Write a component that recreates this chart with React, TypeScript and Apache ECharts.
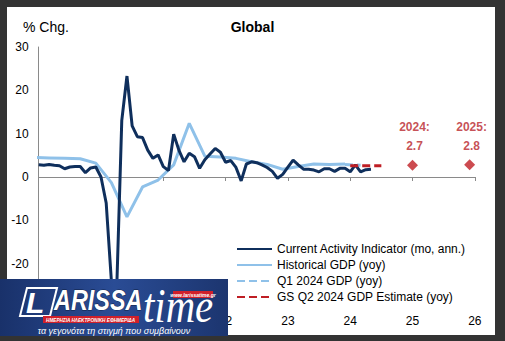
import React, { useEffect, useRef } from "react";
import * as echarts from "echarts";

// ---- Data ----
const caiStart = "2019-01";
// Current Activity Indicator (mo, ann.), monthly Jan 2019 .. May 2024
const caiValues = [
  2.8, 2.7, 2.9, 2.7, 2.6, 1.9, 2.3, 2.4, 2.4, 1.0, 2.1, 2.3,
  0.0, -6.0, -24.0, -27.0, 13.0, 23.3, 11.8, 9.3, 9.1, 6.2, 4.3, 5.1,
  2.4, 1.5, 9.9, 6.2, 3.5, 5.5, 4.7, 2.0, 4.0, 5.3, 6.6, 5.7,
  3.4, 3.8, 2.2, -0.9, 3.0, 3.5, 3.3, 2.8, 2.2, 1.3, -0.3, 0.6,
  2.3, 3.9, 2.8, 1.8, 1.8, 1.6, 1.2, 1.9, 1.9, 1.3, 2.0, 2.0,
  1.2, 2.8, 1.2, 1.7, 1.8,
];
// Historical GDP (yoy), quarterly
const gdpDates = [
  "2018-12", "2019-03", "2019-06", "2019-09", "2019-12", "2020-03", "2020-06",
  "2020-09", "2020-12", "2021-03", "2021-06", "2021-09", "2021-12", "2022-03",
  "2022-06", "2022-09", "2022-12", "2023-03", "2023-06", "2023-09", "2023-12",
];
const gdpValues = [
  4.5, 4.4, 4.3, 4.2, 3.2, -1.3, -9.2, -2.3, -0.7, 2.8, 12.4, 4.8, 4.6, 4.3,
  3.5, 2.9, 1.8, 2.4, 3.0, 2.9, 3.0,
];
const q1Dates = ["2023-12", "2024-03"];
const q1Values = [2.9, 2.7];
const gsDates = ["2024-01", "2024-07"];
const gsValues = [2.6, 2.6];
const forecastDates = ["2025-01", "2025-12"];
const forecastLabels = ["2024:", "2025:"];
const forecastValues = [2.7, 2.8];

const seriesNames = [
  "Current Activity Indicator (mo, ann.)",
  "Historical GDP (yoy)",
  "Q1 2024 GDP (yoy)",
  "GS Q2 2024 GDP Estimate (yoy)",
];
const xMin = 2019;
const xMax = 2026;
const firstVisibleYearLabel = 2022; // earlier labels sit under the logo
const yMin = -30;
const yMax = 30;
const yStep = 10;

const FONT = "'Liberation Sans', Arial, sans-serif";
const NAVY = "#0f2f5c";
const LIGHT = "#8fc1e9";
const RED = "#bf1e24";
const LABEL_RED = "#b8232a";

const toX = (d: string) => {
  const [y, m] = d.split("-").map(Number);
  return y + (m - 1) / 12;
};
const pairs = (dates: string[], vals: number[]) => dates.map((d, i) => [toX(d), vals[i]]);

const LOGO_Z = 100;

export default function App() {
  const ref = useRef<HTMLDivElement>(null);
  useEffect(() => {
    if (!ref.current) return;
    const chart = echarts.init(ref.current, undefined, { renderer: "svg" });
    const caiData = caiValues.map((v, i) => [toX(caiStart) + i / 12, v]);
    const option: any = {
      animation: false,
      backgroundColor: "#333333",
      textStyle: { fontFamily: FONT },
      title: [
        {
          text: "Global",
          left: "center",
          top: 20,
          padding: 0,
          textStyle: { fontSize: 14, fontWeight: "bold", color: "#000", fontFamily: FONT },
        },
        {
          text: "% Chg.",
          left: 23,
          top: 20,
          padding: 0,
          textStyle: { fontSize: 14, fontWeight: "normal", color: "#000", fontFamily: FONT },
        },
      ],
      grid: { left: 38.7, right: 30.2, top: 47, bottom: 34, containLabel: false },
      legend: {
        orient: "vertical",
        left: 236,
        top: 243,
        padding: 0,
        itemWidth: 35,
        itemHeight: 14,
        itemGap: 4,
        data: seriesNames,
        itemStyle: { color: "rgba(0,0,0,0)", borderWidth: 0, opacity: 0 },
        textStyle: { fontSize: 12, color: "#000", fontFamily: FONT },
        selectedMode: false,
      },
      xAxis: [
        {
          type: "value",
          min: xMin,
          max: xMax,
          interval: 1,
          position: "bottom",
          axisLine: { show: false, onZero: false },
          axisTick: { show: false },
          splitLine: { show: false },
          axisLabel: {
            fontSize: 12,
            color: "#000",
            margin: 8,
            fontFamily: FONT,
            formatter: (v: number) =>
              v < firstVisibleYearLabel ? "" : String(Math.round(v) % 100),
          },
        },
        {
          type: "value",
          min: xMin,
          max: xMax,
          interval: 1,
          position: "bottom",
          axisLine: { show: true, onZero: true, lineStyle: { color: "#8a8a8a", width: 1 } },
          axisTick: { show: true, length: 4, lineStyle: { color: "#8a8a8a" } },
          axisLabel: { show: false },
          splitLine: { show: false },
        },
      ],
      yAxis: {
        type: "value",
        min: yMin,
        max: yMax,
        interval: yStep,
        axisLine: { show: true, lineStyle: { color: "#8a8a8a", width: 1 } },
        axisTick: { show: false },
        splitLine: { show: false },
        axisLabel: {
          fontSize: 12,
          color: "#000",
          margin: 10,
          fontFamily: FONT,
          formatter: (v: number) => (v <= yMin ? "" : String(v)),
        },
      },
      series: [
        {
          name: seriesNames[0],
          type: "line",
          symbol: "none",
          data: caiData,
          lineStyle: { color: NAVY, width: 3 },
          itemStyle: { color: NAVY },
          z: 3,
        },
        {
          name: seriesNames[1],
          type: "line",
          symbol: "none",
          data: pairs(gdpDates, gdpValues),
          lineStyle: { color: LIGHT, width: 3 },
          itemStyle: { color: LIGHT },
          z: 2,
        },
        {
          name: seriesNames[2],
          type: "line",
          symbol: "none",
          data: pairs(q1Dates, q1Values),
          lineStyle: { color: LIGHT, width: 3, type: [8, 4] },
          itemStyle: { color: LIGHT },
          z: 2,
        },
        {
          name: seriesNames[3],
          type: "line",
          symbol: "none",
          data: pairs(gsDates, gsValues),
          lineStyle: { color: RED, width: 3, type: [8, 4] },
          itemStyle: { color: RED },
          z: 4,
        },
        {
          name: "Forecast",
          type: "scatter",
          symbol: "diamond",
          symbolSize: 11,
          data: pairs(forecastDates, forecastValues),
          itemStyle: { color: RED },
          label: {
            show: true,
            position: "top",
            distance: 4,
            offset: [2, 0],
            formatter: (p: any) =>
              `{a|${forecastLabels[p.dataIndex]}}\n{a|${p.value[1].toFixed(1)}}`,
            rich: {
              a: {
                fontSize: 12,
                fontWeight: "bold",
                color: LABEL_RED,
                lineHeight: 19,
                fontFamily: FONT,
              },
            },
          },
          z: 5,
        },
      ],
      graphic: [
        {
          type: "rect",
          z: -10,
          silent: true,
          shape: { x: 7, y: 7, width: 488, height: 328 },
          style: { fill: "#ffffff" },
        },
        {
          type: "rect",
          z: LOGO_Z,
          silent: true,
          shape: { x: 0, y: 279, width: 228, height: 57 },
          style: {
            fill: new echarts.graphic.LinearGradient(0, 0, 1, 0, [
              { offset: 0, color: "#19316a" },
              { offset: 0.5, color: "#2a4c95" },
              { offset: 1, color: "#1c356f" },
            ]),
          },
        },
        {
          type: "polygon",
          z: LOGO_Z,
          silent: true,
          shape: { points: [[27, 288], [57, 288], [50, 316], [20, 316]] },
          style: { fill: "none", stroke: "#ffffff", lineWidth: 2 },
        },
        {
          type: "text",
          z: LOGO_Z,
          silent: true,
          x: 26,
          y: 302,
          style: {
            text: "L",
            fill: "#ffffff",
            font: "italic bold 30px 'Liberation Sans', Arial",
            verticalAlign: "middle",
            align: "left",
          },
        },
        {
          type: "text",
          z: LOGO_Z,
          silent: true,
          x: 54,
          y: 300,
          scaleX: 0.78,
          style: {
            text: "ARISSA",
            fill: "#ffffff",
            stroke: "#0e1f45",
            lineWidth: 1,
            font: "italic bold 30px 'Liberation Sans', Arial",
            verticalAlign: "middle",
            align: "left",
          },
        },
        {
          type: "text",
          z: LOGO_Z,
          silent: true,
          x: 143,
          y: 306,
          scaleX: 0.85,
          style: {
            text: "time",
            fill: "#ffffff",
            font: "italic 48px 'Liberation Serif', 'Times New Roman', serif",
            verticalAlign: "middle",
            align: "left",
          },
        },
        {
          type: "rect",
          z: LOGO_Z + 1,
          silent: true,
          shape: { x: 173, y: 291, width: 40, height: 7 },
          style: { fill: "#d0202a" },
        },
        {
          type: "text",
          z: LOGO_Z + 2,
          silent: true,
          x: 193,
          y: 294.5,
          style: {
            text: "www.larissatime.gr",
            fill: "#ffffff",
            font: "italic bold 5px 'Liberation Sans', Arial",
            verticalAlign: "middle",
            align: "center",
          },
        },
        {
          type: "rect",
          z: LOGO_Z + 1,
          silent: true,
          shape: { x: 43, y: 316, width: 96, height: 7 },
          style: { fill: "#d0202a" },
        },
        {
          type: "text",
          z: LOGO_Z + 2,
          silent: true,
          x: 46,
          y: 319.5,
          scaleX: 0.78,
          style: {
            text: "ΗΜΕΡΗΣΙΑ ΗΛΕΚΤΡΟΝΙΚΗ ΕΦΗΜΕΡΙΔΑ",
            fill: "#ffffff",
            font: "italic bold 6px 'Liberation Sans', Arial",
            verticalAlign: "middle",
            align: "left",
          },
        },
        {
          type: "text",
          z: LOGO_Z,
          silent: true,
          x: 114,
          y: 331,
          style: {
            text: "τα γεγονότα τη στιγμή που συμβαίνουν",
            fill: "#ffffff",
            font: "italic 9px 'Liberation Sans', Arial",
            verticalAlign: "middle",
            align: "center",
          },
        },
      ],
    };
    chart.setOption(option);
    return () => chart.dispose();
  }, []);
  return (
    <div
      ref={ref}
      style={{ position: "fixed", left: 0, top: 0, width: 505, height: 341 }}
    />
  );
}
